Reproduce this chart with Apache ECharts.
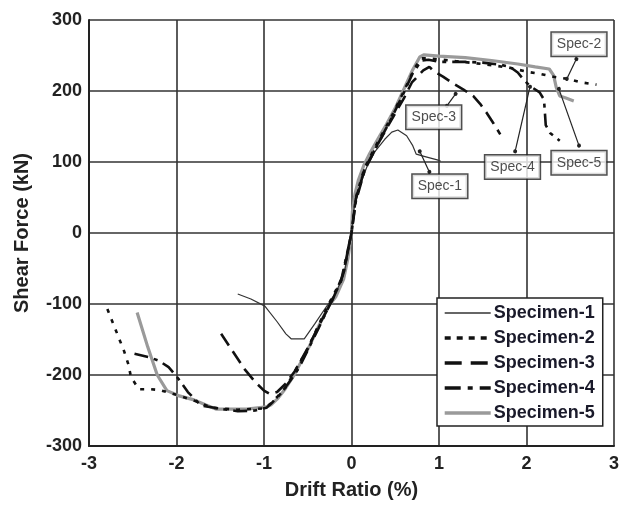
<!DOCTYPE html>
<html>
<head>
<meta charset="utf-8">
<script src="https://cdn.jsdelivr.net/npm/echarts@6/dist/echarts.min.js"></script>
<style>
html,body{margin:0;padding:0;background:#fff;}
#chart{width:622px;height:505px;}
</style>
</head>
<body>
<div id="chart"></div>
<script>
// ---- data (drift ratio %, shear force kN) ----
var seriesNames = ['Specimen-1','Specimen-2','Specimen-3','Specimen-4','Specimen-5'];
var xTicks = [-3,-2,-1,0,1,2,3];
var yTicks = [-300,-200,-100,0,100,200,300];

var spec1 = [[-1.30,-86],[-1.15,-93],[-0.99,-103],[-0.85,-125],[-0.75,-142],[-0.69,-149],[-0.54,-149],
  [-0.42,-128],[-0.30,-106],[-0.18,-85],[-0.08,-55],[0,0],[0.03,35],[0.10,68],[0.19,98],[0.27,115],
  [0.38,132],[0.46,142],[0.53,145],[0.63,137],[0.70,123],[0.74,111],[0.83,108],[0.98,103],[1.02,101]];

var spec2 = [[-2.79,-107],[-2.70,-135],[-2.60,-166],[-2.55,-185],[-2.52,-203],[-2.43,-220],[-2.30,-220],
  [-2.20,-221],[-2.00,-228],[-1.80,-236],[-1.60,-246],[-1.30,-249],[-1.00,-247],[-0.92,-240],[-0.85,-231],
  [-0.75,-217],[-0.66,-198],[-0.50,-163],[-0.37,-128],[-0.26,-100],[-0.10,-62],[0,0],[0.05,50],[0.15,92],
  [0.30,128],[0.45,162],[0.60,200],[0.72,232],[0.80,246],[0.88,246],[1.20,242],[1.50,238],[1.80,233],
  [2.01,227],[2.16,224],[2.31,220],[2.48,217],[2.63,212],[2.80,209]];

var spec3 = [[-1.49,-142],[-1.35,-168],[-1.22,-192],[-1.10,-210],[-1.00,-222],[-0.93,-227],[-0.85,-224],
  [-0.75,-212],[-0.65,-195],[-0.50,-162],[-0.35,-125],[-0.22,-95],[-0.10,-60],[0,0],[0.05,48],[0.15,90],
  [0.30,125],[0.45,158],[0.60,190],[0.69,212],[0.82,229],[0.89,234],[0.94,228],[1.05,220],[1.17,210],
  [1.28,202],[1.39,193],[1.47,182],[1.54,170],[1.62,155],[1.70,139]];

var spec4 = [[-2.48,-170],[-2.31,-175],[-2.20,-180],[-2.09,-189],[-1.98,-205],[-1.87,-224],[-1.72,-243],
  [-1.53,-247],[-1.30,-251],[-1.10,-250],[-0.97,-246],[-0.90,-238],[-0.80,-225],[-0.70,-208],[-0.60,-190],
  [-0.50,-165],[-0.38,-135],[-0.26,-104],[-0.12,-68],[0,0],[0.05,45],[0.15,88],[0.30,125],[0.45,160],
  [0.60,198],[0.70,225],[0.80,243],[0.88,244],[1.00,241],[1.30,241],[1.50,240],[1.70,237],[1.81,234],
  [1.90,226],[1.96,217],[2.04,207],[2.15,198],[2.20,188],[2.21,170],[2.22,152],[2.27,141],[2.38,130]];

var spec5 = [[-2.45,-112],[-2.33,-160],[-2.22,-200],[-2.11,-222],[-1.98,-229],[-1.80,-235],[-1.67,-242],
  [-1.55,-248],[-1.40,-248],[-1.20,-248],[-0.97,-245],[-0.92,-242],[-0.85,-234],[-0.76,-220],[-0.66,-201],
  [-0.57,-180],[-0.48,-159],[-0.37,-130],[-0.26,-103],[-0.18,-90],[-0.09,-65],[-0.04,-35],[0,0],
  [0.01,30],[0.04,55],[0.08,75],[0.14,95],[0.20,110],[0.30,132],[0.40,153],[0.50,176],[0.60,203],
  [0.70,230],[0.78,248],[0.83,251],[1.00,249],[1.30,247],[1.60,243],[1.90,238],[2.10,234],[2.26,231],
  [2.31,222],[2.34,205],[2.38,193],[2.45,190],[2.54,186]];

// annotation labels: [name, x, y] and leader lines [x1,y1,x2,y2]
var annoLabels = [['Spec-1',1.01,66],['Spec-3',0.94,163],['Spec-4',1.84,93],['Spec-5',2.60,99],['Spec-2',2.60,266]];
var annoLines = [[0.78,115,0.89,86],[1.09,179,1.19,196],[1.87,115,2.04,206],[2.60,123,2.37,203],[2.57,245,2.46,217]];

var FONT = '"Liberation Sans", Arial, sans-serif';

var chart = echarts.init(document.getElementById('chart'), null, {renderer:'canvas'});

var styles = [
  {color: '#333333', width: 1.2, type: 'solid', lw: 1.6, lt: 'solid'},
  {color: '#111111', width: 2.6, type: [4, 7], lw: 3.4, lt: [6, 6]},
  {color: '#111111', width: 2.6, type: [14, 7], lw: 3.4, lt: [17, 9]},
  {color: '#111111', width: 2.6, type: [14, 6, 4, 6], lw: 3.4, lt: [16, 7, 5, 7]},
  {color: '#9a9a9a', width: 3.2, type: 'solid', lw: 3.4, lt: 'solid'}
];
var dataSets = [spec1, spec2, spec3, spec4, spec5];

function lineSeries(i) {
  var s = styles[i];
  return {
    name: seriesNames[i], type: 'line', data: dataSets[i], showSymbol: false, symbol: 'none',
    lineStyle: {color: s.color, width: s.width, type: s.type, cap: 'butt'},
    itemStyle: {color: s.color},
    z: 3
  };
}

var series = [lineSeries(4), lineSeries(0), lineSeries(1), lineSeries(2), lineSeries(3),
  {
    name: 'annotations', type: 'scatter', symbolSize: 0, z: 10,
    data: annoLabels.map(function(a){ return {name: a[0], value: [a[1], a[2]]}; }),
    label: {
      show: true, position: 'inside', formatter: '{b}',
      fontFamily: FONT, fontSize: 14, color: '#222',
      backgroundColor: '#fff', borderColor: '#222', borderWidth: 1.5,
      padding: [5, 5, 4, 5]
    },
    markLine: {
      silent: true, symbol: ['circle','circle'], symbolSize: 4,
      label: {show: false},
      lineStyle: {color: '#222', width: 1.2, type: 'solid'},
      data: annoLines.map(function(l){ return [{coord:[l[0],l[1]]},{coord:[l[2],l[3]]}]; })
    }
  }
];

chart.setOption({
  animation: false,
  backgroundColor: '#fff',
  grid: {left: 89, top: 20, right: 0, bottom: 59, containLabel: false},
  legend: {
    data: seriesNames.map(function(n, i){
      var s = styles[i];
      return {name: n, lineStyle: {color: s.color, width: s.lw, type: s.lt, cap: 'butt'}};
    }),
    orient: 'vertical',
    left: 437, top: 298,
    backgroundColor: '#fff',
    borderColor: '#222', borderWidth: 1.5,
    padding: [6, 8, 4, 6],
    itemWidth: 46, itemHeight: 14, itemGap: 7,
    itemStyle: {color: 'rgba(0,0,0,0)', borderColor: 'rgba(0,0,0,0)', borderWidth: 0, opacity: 0},
    textStyle: {fontFamily: FONT, fontSize: 18, fontWeight: 'bold', color: '#1a1a2a', padding: [0,0,0,-2]}
  },
  xAxis: {
    type: 'value', min: -3, max: 3, interval: 1,
    name: 'Drift Ratio (%)', nameLocation: 'middle', nameGap: 34,
    nameTextStyle: {fontFamily: FONT, fontSize: 20, fontWeight: 'bold', color: '#222'},
    axisLine: {show: true, onZero: false, lineStyle: {color: '#222', width: 2}},
    axisTick: {show: false},
    axisLabel: {fontFamily: FONT, fontSize: 18, fontWeight: 'bold', color: '#222', margin: 9,
      formatter: function(v){ return xTicks.indexOf(v) >= 0 ? String(v) : ''; }},
    splitLine: {show: true, lineStyle: {color: '#333', width: 1.6}}
  },
  yAxis: {
    type: 'value', min: -300, max: 300, interval: 100,
    name: 'Shear Force (kN)', nameLocation: 'middle', nameGap: 57,
    nameTextStyle: {fontFamily: FONT, fontSize: 20, fontWeight: 'bold', color: '#222'},
    axisLine: {show: true, onZero: false, lineStyle: {color: '#222', width: 2}},
    axisTick: {show: false},
    axisLabel: {fontFamily: FONT, fontSize: 18, fontWeight: 'bold', color: '#222', margin: 7,
      formatter: function(v){ return yTicks.indexOf(v) >= 0 ? String(v) : ''; }},
    splitLine: {show: true, lineStyle: {color: '#333', width: 1.6}}
  },
  series: series
});
</script>
</body>
</html>
